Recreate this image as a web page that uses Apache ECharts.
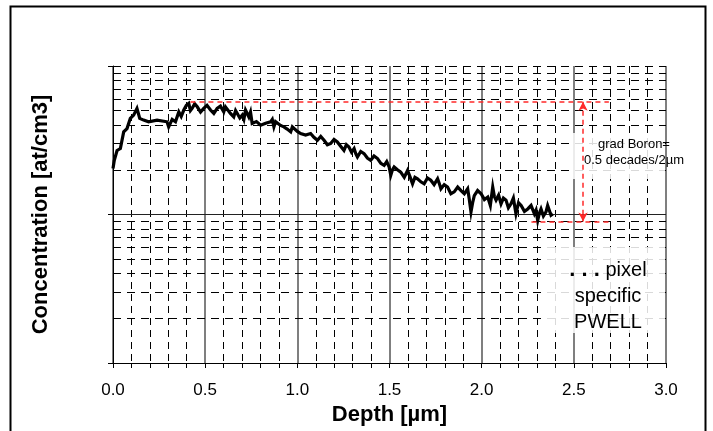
<!DOCTYPE html>
<html><head><meta charset="utf-8">
<script src="https://cdn.jsdelivr.net/npm/echarts/dist/echarts.min.js"></script>
<style>html,body{margin:0;padding:0;background:#fff}#c{width:713px;height:431px}</style>
</head><body><div id="c"></div>
<script>
// Depth in µm
const depth = [0.000,0.007,0.022,0.040,0.058,0.076,0.094,0.112,0.130,0.145,0.166,0.193,0.239,0.293,0.302,0.321,0.339,
0.357,0.370,0.384,0.398,0.411,0.420,0.429,0.443,0.457,0.475,0.492,0.510,0.529,0.547,0.565,0.583,0.601,0.610,0.620,0.637,0.655,0.665,0.674,0.688,0.701,0.710,0.719,0.728,0.737,0.746,0.755,0.778,0.801,0.828,0.855,0.864,0.873,0.882,0.891,0.909,0.927,0.945,0.964,0.973,0.982,1.000,1.018,1.045,1.072,1.090,1.109,1.127,1.145,1.163,1.181,1.199,1.217,1.235,1.253,1.266,1.280,1.294,1.308,1.317,1.326,1.344,1.362,1.380,1.398,1.416,1.435,1.453,1.471,1.485,1.498,1.507,1.516,1.525,1.543,1.561,1.580,1.598,1.611,1.625,1.638,1.652,1.670,1.688,1.706,1.724,1.742,1.761,1.770,1.779,1.797,1.815,1.833,1.851,1.870,1.888,1.906,1.924,1.933,1.942,1.951,1.960,1.978,1.997,2.015,2.033,2.047,2.060,2.069,2.078,2.092,2.105,2.118,2.132,2.145,2.159,2.172,2.186,2.200,2.214,2.232,2.250,2.268,2.286,2.295,2.304,2.313,2.322,2.335,2.349,2.358,2.367,2.376,2.386];
// Concentration in at/cm3
const conc = [2.04e16,2.32e16,2.70e16,2.78e16,3.60e16,3.79e16,4.44e16,4.67e16,5.18e16,4.44e16,4.32e16,4.21e16,4.32e16,4.21e16,3.89e16,4.37e16,4.21e16,
4.91e16,4.57e16,5.05e16,5.43e16,5.60e16,5.01e16,5.18e16,5.56e16,5.31e16,4.90e16,5.18e16,5.43e16,5.05e16,4.79e16,5.18e16,5.37e16,4.91e16,5.31e16,5.18e16,4.79e16,4.54e16,5.01e16,4.91e16,4.47e16,4.67e16,4.37e16,5.05e16,4.79e16,4.54e16,4.90e16,4.10e16,4.22e16,3.99e16,4.12e16,4.21e16,4.37e16,3.89e16,4.22e16,4.10e16,3.98e16,3.89e16,3.76e16,3.60e16,3.89e16,3.79e16,3.63e16,3.51e16,3.43e16,3.51e16,3.31e16,3.16e16,3.35e16,3.16e16,2.95e16,3.01e16,3.20e16,3.08e16,2.88e16,2.70e16,2.95e16,2.85e16,2.63e16,2.78e16,2.57e16,2.44e16,2.66e16,2.57e16,2.40e16,2.32e16,2.48e16,2.38e16,2.21e16,2.14e16,2.27e16,2.09e16,1.84e16,2.00e16,2.09e16,2.00e16,1.93e16,1.78e16,1.98e16,1.80e16,1.61e16,1.78e16,1.74e16,1.66e16,1.61e16,1.76e16,1.70e16,1.59e16,1.74e16,1.62e16,1.49e16,1.59e16,1.53e16,1.38e16,1.42e16,1.53e16,1.45e16,1.38e16,1.49e16,1.26e16,1.04e16,1.20e16,1.34e16,1.45e16,1.38e16,1.26e16,1.31e16,1.15e16,1.53e16,1.32e16,1.25e16,1.35e16,1.18e16,1.29e16,1.25e16,1.11e16,1.18e16,1.29e16,1.01e16,1.20e16,1.15e16,1.05e16,1.09e16,1.15e16,1.01e16,1.07e16,9.10e15,1.02e16,1.09e16,9.77e15,1.04e16,1.15e16,1.12e16,9.89e15,1.01e16];
const xTickLabels = ['0.0','0.5','1.0','1.5','2.0','2.5','3.0'];
const yMin = 1e15, yMax = 1e17;
const hGridDashed = [2e15,3e15,4e15,5e15,6e15,7e15,8e15,9e15,2e16,3e16,4e16,5e16,6e16,7e16,8e16,9e16,1e17];
const hGridSolid = [1e16];
const gradTop = 5.74e16, gradBottom = 8.98e15;
const gradTopSpan = [0.42, 2.69], gradBottomSpan = [2.27, 2.71], gradArrowX = 2.55;
const gradText = 'grad Boron=\n0.5 decades/2µm';
const noteText = '{d|. . .} pixel\nspecific\nPWELL';
const xName = 'Depth [µm]', yName = 'Concentration [at/cm3]';

const FONT = "'Liberation Sans', Arial, sans-serif";
const red = '#ff2a2a';
const chart = echarts.init(document.getElementById('c'), null, {renderer: 'canvas'});
chart.setOption({
  animation: false,
  backgroundColor: '#fff',
  grid: {left: 113, right: 47, top: 66, bottom: 68, containLabel: false},
  xAxis: {
    type: 'value', min: 0, max: 3, interval: 0.5,
    axisLine: {show: true, lineStyle: {color: '#000', width: 1}},
    axisTick: {show: true, length: 5, lineStyle: {color: '#000'}},
    minorTick: {show: true, splitNumber: 5, length: 5, lineStyle: {color: '#000'}},
    axisLabel: {formatter: v => xTickLabels[Math.round(v / 0.5)], fontSize: 17, color: '#000', fontFamily: FONT, margin: 19},
    splitLine: {show: true, lineStyle: {color: '#555', width: 1.5}},
    minorSplitLine: {show: true, lineStyle: {color: '#000', width: 1, type: [7, 5]}},
    name: xName, nameLocation: 'middle', nameGap: 36,
    nameTextStyle: {fontSize: 22, fontWeight: 'bold', color: '#000', fontFamily: FONT}
  },
  yAxis: {
    type: 'log', logBase: 10, min: yMin, max: yMax,
    axisLine: {show: true, lineStyle: {color: '#000', width: 1}},
    axisTick: {show: true, length: 5, lineStyle: {color: '#000'}},
    axisLabel: {show: false},
    splitLine: {show: false},
    name: yName, nameLocation: 'middle', nameGap: 61,
    nameTextStyle: {fontSize: 22, fontWeight: 'bold', color: '#000', fontFamily: FONT}
  },
  series: [
    {
      type: 'line', data: [], z: 1, silent: true,
      markLine: {
        silent: true, z: 1, symbol: ['none', 'none'], label: {show: false}, animation: false,
        emphasis: {disabled: true},
        data: hGridDashed.map(v => ({yAxis: v, lineStyle: {type: [8, 6], color: '#000', width: 1}}))
          .concat(hGridSolid.map(v => ({yAxis: v, lineStyle: {type: 'solid', color: '#222', width: 1.2}})))
      }
    },
    {
      type: 'line', data: depth.map((d, i) => [d, conc[i]]), z: 4,
      symbol: 'none', lineStyle: {color: '#000', width: 3.2, join: 'miter'}, silent: true
    },
    {
      type: 'line', data: [], z: 60, silent: true,
      markLine: {
        silent: true, z: 60, label: {show: false}, animation: false, emphasis: {disabled: true},
        lineStyle: {color: red, type: [5, 4], width: 1.5},
        data: [
          [{coord: [gradTopSpan[0], gradTop], symbol: 'none'}, {coord: [gradTopSpan[1], gradTop], symbol: 'none'}],
          [{coord: [gradBottomSpan[0], gradBottom], symbol: 'none'}, {coord: [gradBottomSpan[1], gradBottom], symbol: 'none'}],
          [{coord: [gradArrowX, gradTop], symbol: 'arrow', symbolSize: [7, 9]}, {coord: [gradArrowX, gradBottom], symbol: 'arrow', symbolSize: [7, 9]}]
        ]
      }
    }
  ],
  graphic: [
    {type: 'rect', z: 50, shape: {x: 573, y: 133, width: 92, height: 46}, style: {fill: 'rgba(255,255,255,0.85)'}},
    {type: 'text', z: 51, x: 634, y: 152, style: {text: gradText, font: '13px ' + FONT, fill: '#000', align: 'center', verticalAlign: 'middle', lineHeight: 16}},
    {type: 'rect', z: 50, shape: {x: 542, y: 247, width: 123, height: 86}, style: {fill: 'rgba(255,255,255,0.85)'}},
    {type: 'text', z: 51, x: 608, y: 296, style: {text: noteText, font: '20px ' + FONT, fill: '#000', align: 'center', verticalAlign: 'middle', lineHeight: 26, rich: {d: {fontWeight: 'bold', fontSize: 22, fontFamily: FONT}}}},
    {type: 'rect', z: 70, shape: {x: 10.5, y: 6.5, width: 695, height: 440}, style: {fill: 'none', stroke: '#000', lineWidth: 2}}
  ]
});
</script></body></html>
